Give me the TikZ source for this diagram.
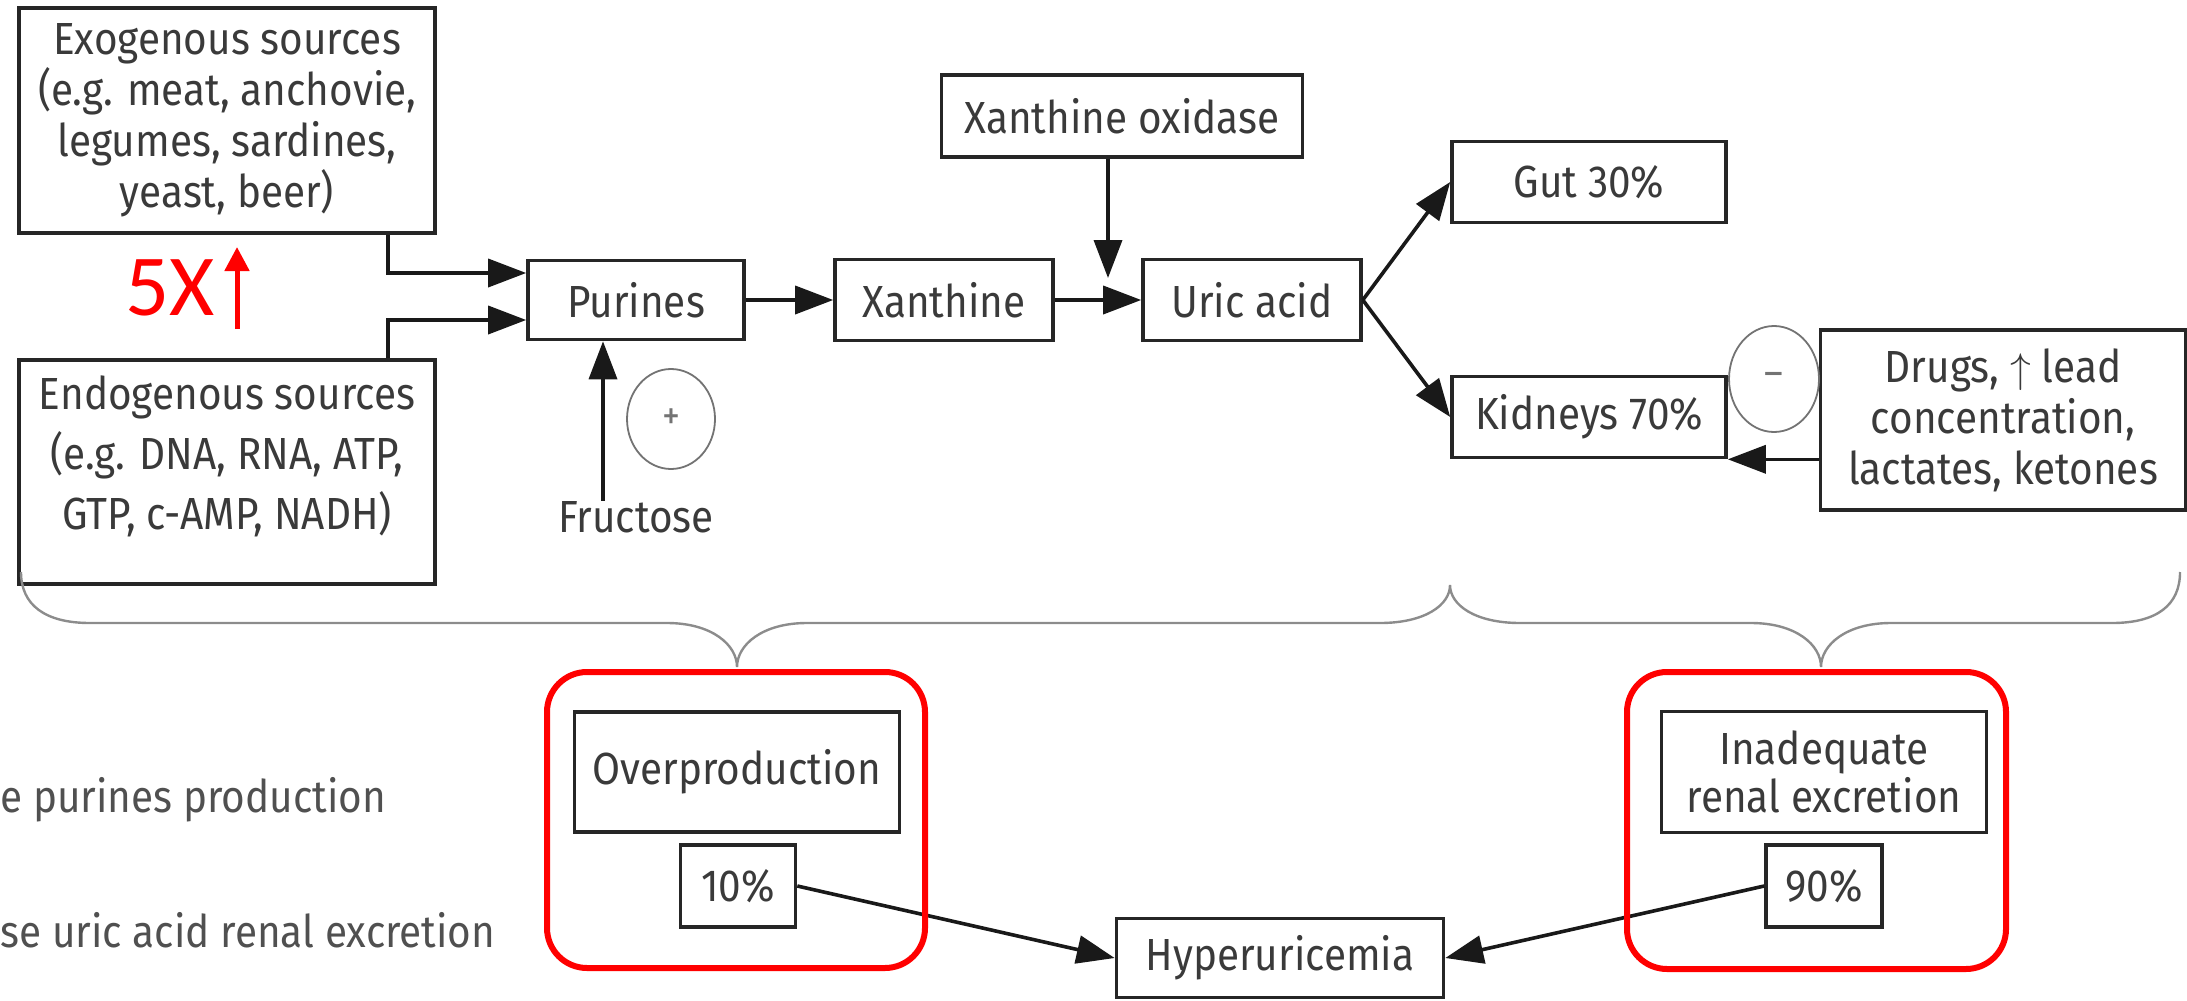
\documentclass[tikz,border=0pt]{standalone}
\usepackage{fontspec}
\setmainfont[FakeStretch=0.9]{Fira Sans}
\newfontfamily\markfont{Carlito}
\usepackage{tikz}
\usetikzlibrary{arrows.meta,shapes.geometric,calc}
\definecolor{txtgray}{HTML}{3A3A3A}
\definecolor{sidegray}{HTML}{505050}
\definecolor{bracegray}{HTML}{8C8C8C}
\definecolor{markred}{HTML}{FF0000}
\tikzset{
  box/.style={draw=black!85, line width=1.8pt, text=txtgray, align=center, inner sep=0pt, font=\fontsize{22.5}{25.5}\selectfont},
  txt/.style={text=txtgray, align=center, inner sep=0pt, font=\fontsize{22.5}{25.5}\selectfont},
  arr/.style={line width=1.8pt, draw=black!90, -{Triangle[length=19pt,width=14pt]}},
  sign/.style={draw=black!55, line width=0.9pt, ellipse, inner sep=0pt, text=black!55, font=\fontsize{20}{20}\selectfont},
  redframe/.style={draw=markred, line width=3pt, rounded corners=20pt},
}
\begin{document}
\begin{tikzpicture}[x=0.5pt,y=-0.5pt]
    \useasboundingbox (0,0) rectangle (2187,1000);
    \node[box, minimum width=208pt, minimum height=112.5pt] (exo) at (227,120.5) {Exogenous sources\\(e.g. meat, anchovie,\\legumes, sardines,\\yeast, beer)};
    \node[box, minimum width=208pt, minimum height=112pt] (endo) at (227,472) {};
    \node[txt, font=\fontsize{22.5}{30}\selectfont] (endo text) at (227,456) {Endogenous sources\\(e.g. DNA, RNA, ATP,\\GTP, c-AMP, NADH)};
    \node[text=markred, font=\markfont\fontsize{43.5}{43.5}\selectfont, inner sep=0pt] (fivex) at (170,288) {5X};
    \coordinate (up base) at (237,329);
    \draw[markred, line width=2.5pt, -{Triangle[length=12pt,width=12pt]}] (up base) -- ++(0,-82);
    \node[box, minimum width=108pt, minimum height=39.5pt] (purines) at (636,300) {Purines};
    \node[box, minimum width=109pt, minimum height=40.5pt] (xanthine) at (944,300) {Xanthine};
    \node[box, minimum width=109pt, minimum height=40.5pt] (uric) at (1252,300) {Uric acid};
    \node[box, minimum width=180.5pt, minimum height=41pt] (xo) at (1122,116) {Xanthine oxidase};
    \node[box, minimum width=137pt, minimum height=40.5pt] (gut) at (1589,182) {Gut 30\%};
    \node[box, minimum width=137pt, minimum height=40.5pt] (kidneys) at (1589,417) {Kidneys 70\%};
    \node[box, minimum width=182.5pt, minimum height=90pt] (drugs) at (2003,420) {Drugs, $\uparrow$ lead\\concentration,\\lactates, ketones};
    \node[txt] (fructose) at (636,517) {Fructose};
    \node[sign, minimum width=44pt, minimum height=50pt] (plus) at (671,419) {+};
    \node[sign, minimum width=45pt, minimum height=53pt] (minus) at (1774,379) {--};
    \coordinate (xo tip) at (1108,278);
    \draw[arr] ([xshift=80.5pt]exo.south) |- ([yshift=13.5pt]purines.west);
    \draw[arr] ([xshift=80.5pt]endo.north) |- ([yshift=-10pt]purines.west);
    \draw[arr] ([xshift=-16.5pt]fructose.north) -- ([xshift=-16.5pt]purines.south);
    \draw[arr] (purines) -- (xanthine);
    \draw[arr] (xanthine) -- (uric);
    \draw[arr] (xo.south -| xo tip) -- (xo tip);
    \draw[arr] (uric.east) -- (gut.west);
    \draw[arr] (uric.east) -- (kidneys.west);
    \draw[arr] (drugs.west |- kidneys.south) -- (kidneys.south east);
    \draw[bracegray, line width=1.2pt] (21,572) .. controls (21,605) and (45,623) .. (90,623) -- (667,623) .. controls (712,623) and (737,645) .. (737,667) .. controls (737,645) and (762,623) .. (807,623) -- (1380,623) .. controls (1425,623) and (1450,605) .. (1450,585) .. controls (1450,605) and (1475,623) .. (1520,623) -- (1751,623) .. controls (1796,623) and (1821,645) .. (1821,667) .. controls (1821,645) and (1846,623) .. (1891,623) -- (2112,623) .. controls (2157,623) and (2180,605) .. (2180,572);
    \node[box, minimum width=162.5pt, minimum height=60pt] (over) at (737,772) {Overproduction};
    \node[box, minimum width=57.5pt, minimum height=41pt] (ten) at (738,886) {10\%};
    \node[box, minimum width=162.5pt, minimum height=60.5pt, font=\fontsize{22.5}{24}\selectfont] (renal) at (1824,772) {Inadequate\\renal excretion};
    \node[box, minimum width=58pt, minimum height=41pt] (ninety) at (1824,886) {90\%};
    \node[box, minimum width=163.5pt, minimum height=39.5pt] (hyper) at (1280,958) {Hyperuricemia};
    \draw[arr] (ten.east) -- (hyper.west);
    \draw[arr] (ninety.west) -- (hyper.east);
    \draw[redframe] (547,672) rectangle (925,968);
    \draw[redframe] (1627,672) rectangle (2006,969);
    \node[txt, text=sidegray, anchor=west] (side one) at (0,800) {e purines production};
    \node[txt, text=sidegray, anchor=west] (side two) at (0,930) {se uric acid renal excretion};
\end{tikzpicture}
\end{document}
